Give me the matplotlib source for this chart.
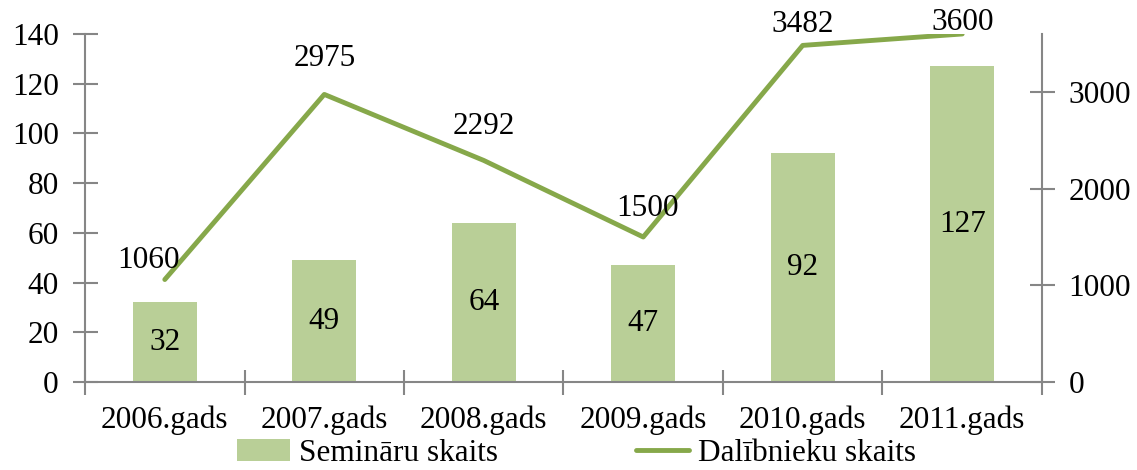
import matplotlib
matplotlib.use("Agg")
import numpy as np
from matplotlib import pyplot as plt

# data
years = ["2006.gads", "2007.gads", "2008.gads", "2009.gads", "2010.gads", "2011.gads"]
seminars = [32, 49, 64, 47, 92, 127]
participants = [1060, 2975, 2292, 1500, 3482, 3600]

# label offsets (pixels) for the line labels, as placed in the original
line_label_offsets = [(-16, 19), (0, 36), (0, 34), (4, 29), (0, 21), (0, 11)]

bar_color = "#B9CF97"
line_color = "#86A84A"
axis_color = "#868686"
fs = 22.5

plt.rcParams["font.family"] = ["Liberation Serif", "DejaVu Serif"]
plt.rcParams["font.size"] = fs

fig = plt.figure(figsize=(11.37, 4.70), dpi=100)
ax = fig.add_axes([0.0748, 0.1872, 0.8416, 0.7405])
ax2 = ax.twinx()

x = np.arange(len(years))
bars = ax.bar(x, seminars, width=0.4, color=bar_color, label="Semināru skaits", zorder=2)
for xi, v in zip(x, seminars):
    ax.text(xi, v / 2, str(v), ha="center", va="center", fontsize=fs)

ln, = ax2.plot(x, participants, color=line_color, lw=3.5, solid_capstyle="round",
               label="Dalībnieku skaits", zorder=3)
for xi, v, off in zip(x, participants, line_label_offsets):
    ax2.annotate(str(v), (xi, v), xytext=off, textcoords="offset pixels",
                 ha="center", va="center", fontsize=fs, annotation_clip=False)

ax.set_xlim(-0.5, len(years) - 0.5)
ax.set_ylim(0, 140)
ax2.set_ylim(0, 3600)
ax.set_yticks(range(0, 141, 20))
ax2.set_yticks([0, 1000, 2000, 3000])

# category boundaries get the ticks, centres get the labels
ax.set_xticks(np.arange(-0.5, len(years), 1.0))
ax.set_xticklabels([])
ax.set_xticks(x, minor=True)
ax.set_xticklabels(years, minor=True)
ax.tick_params(axis="x", which="minor", length=0, pad=17)
ax.tick_params(axis="x", which="major", direction="inout", length=18, width=1.5, color=axis_color)
ax.tick_params(axis="y", direction="inout", length=18, width=1.5, color=axis_color, pad=10)
ax2.tick_params(axis="y", direction="inout", length=18, width=1.5, color=axis_color, pad=10)

for a in (ax, ax2):
    a.spines["top"].set_visible(False)
    for s in ("left", "right", "bottom"):
        a.spines[s].set_color(axis_color)
        a.spines[s].set_linewidth(1.5)
ax.spines["right"].set_visible(False)
ax2.spines["left"].set_visible(False)
ax2.spines["bottom"].set_visible(False)

fig.legend([bars, ln], ["Semināru skaits", "Dalībnieku skaits"], loc="center",
           bbox_to_anchor=(0.507, 0.036), ncol=2, frameon=False,
           handlelength=1.7, handletextpad=0.3, columnspacing=4.4, fontsize=fs)

fig.savefig("out.png", dpi=100)
